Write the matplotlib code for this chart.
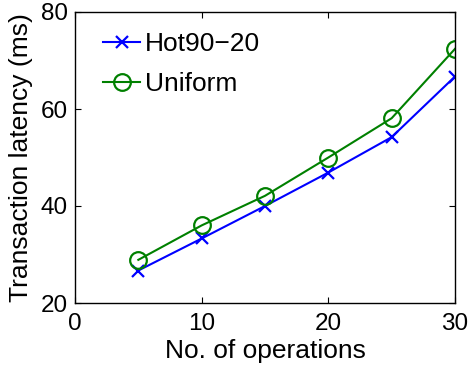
import matplotlib
matplotlib.use("Agg")
import matplotlib.pyplot as plt

plt.rcParams['font.family'] = ['Liberation Sans', 'DejaVu Sans']

ops = [5, 10, 15, 20, 25, 30]
hot = [26.7, 33.3, 40.0, 46.9, 54.2, 66.7]
uniform = [28.9, 36.0, 42.1, 50.0, 58.1, 72.4]
xticks = [0, 10, 20, 30]
yticks = [20, 40, 60, 80]

fig = plt.figure(figsize=(4.7, 3.68), dpi=100)
ax = fig.add_axes([75/470, 1 - 303/368, 380/470, 291/368])

ax.plot(ops, hot, color=(0, 0, 1), marker='x', markersize=8.5, markeredgewidth=1.6,
        linewidth=1.5, label='Hot90\u221220')
ax.plot(ops, uniform, color=(0, 0.5, 0), marker='o', markersize=12, markerfacecolor='none',
        markeredgewidth=1.6, linewidth=1.5, label='Uniform')

ax.set_xlim(0, 30)
ax.set_ylim(20, 80)
ax.set_xticks(xticks)
ax.set_yticks(yticks)
ax.tick_params(direction='in', top=True, right=True, labelsize=17.5, length=4, width=0.8)
ax.tick_params(axis='x', pad=7)
ax.tick_params(axis='y', pad=5)
for s in ax.spines.values():
    s.set_linewidth(1.0)

ax.set_xlabel('No. of operations', fontsize=19, labelpad=3)
ax.set_ylabel('Transaction latency (ms)', fontsize=19, labelpad=6)

ax.legend(loc='upper left', frameon=False, fontsize=19, handlelength=1.4,
          handletextpad=0.2, borderaxespad=0, borderpad=0, labelspacing=0.6,
          bbox_to_anchor=(0.074, 0.93))

fig.savefig('out.png', dpi=100)
